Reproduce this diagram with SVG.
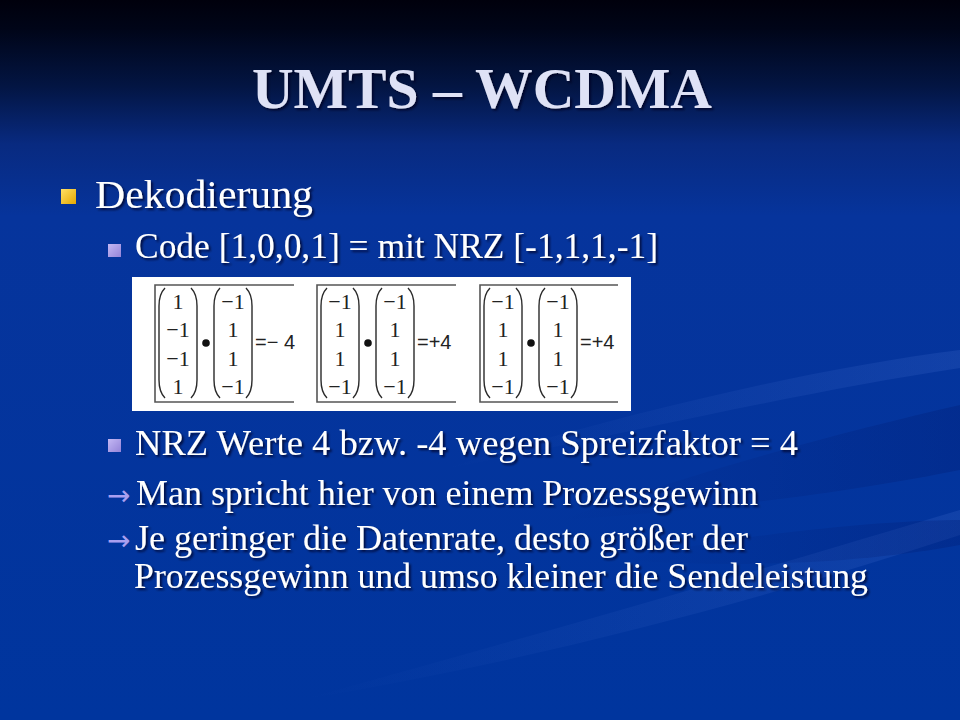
<svg xmlns="http://www.w3.org/2000/svg" width="960" height="720" viewBox="0 0 960 720">
<defs>
  <linearGradient id="bg" x1="0" y1="0" x2="0" y2="1">
    <stop offset="0" stop-color="#00000c"/>
    <stop offset="0.04" stop-color="#000518"/>
    <stop offset="0.12" stop-color="#031543"/>
    <stop offset="0.2" stop-color="#082a80"/>
    <stop offset="0.3" stop-color="#06349c"/>
    <stop offset="1" stop-color="#00359e"/>
  </linearGradient>
  <linearGradient id="gold" x1="0" y1="0" x2="1" y2="1">
    <stop offset="0" stop-color="#ffe066"/>
    <stop offset="1" stop-color="#e6a800"/>
  </linearGradient>
  <linearGradient id="lav" x1="0" y1="0" x2="1" y2="1">
    <stop offset="0" stop-color="#c4b8f4"/>
    <stop offset="1" stop-color="#9484d8"/>
  </linearGradient>
  <linearGradient id="ribL" x1="0" y1="0" x2="1" y2="0">
    <stop offset="0" stop-color="#3a66c8" stop-opacity="0"/>
    <stop offset="0.6" stop-color="#3a66c8" stop-opacity="0.16"/>
    <stop offset="1" stop-color="#3a66c8" stop-opacity="0.26"/>
  </linearGradient>
  <linearGradient id="ribD" x1="0" y1="0" x2="1" y2="0">
    <stop offset="0" stop-color="#001a70" stop-opacity="0"/>
    <stop offset="1" stop-color="#001a70" stop-opacity="0.3"/>
  </linearGradient>
  <filter id="sh" x="-5%" y="-20%" width="110%" height="140%">
    <feDropShadow dx="2" dy="2" stdDeviation="1" flood-color="#000020" flood-opacity="0.75"/>
  </filter>
  <style>
    .t { font-family: "Liberation Serif", "DejaVu Serif", serif; fill: #ffffff; filter: url(#sh); }
    .l1 { font-size: 40px; }
    .l2 { font-size: 36px; }
    .arr { font-family: "Noto Sans", "DejaVu Sans", sans-serif; font-size: 28px; fill: #a99ff0; }
    .m { font-family: "Liberation Serif", "DejaVu Serif", serif; font-size: 22px; fill: #222; text-anchor: middle; }
    .eq { font-family: "Liberation Sans", "DejaVu Sans", sans-serif; font-size: 20px; fill: #222; }
    .par { fill: none; stroke: #2a2a2a; stroke-width: 1.4; }
    .frame { fill: none; stroke: #555; stroke-width: 1.6; }
  </style>
</defs>

<!-- background -->
<rect x="0" y="0" width="960" height="720" fill="url(#bg)"/>
<g id="swooshes">
  <path d="M 440 470 C 600 420 800 370 960 350 L 960 368 C 800 392 620 435 440 470 Z" fill="url(#ribL)"/>
  <path d="M 560 520 C 700 470 850 430 960 405 L 960 470 C 860 490 720 510 560 520 Z" fill="url(#ribD)"/>
  <path d="M 300 700 C 520 640 760 570 960 510 L 960 535 C 760 600 540 660 300 700 Z" fill="url(#ribL)"/>
  <path d="M 620 560 C 760 530 900 520 960 520 L 960 545 C 880 560 760 570 620 560 Z" fill="url(#ribD)"/>
</g>

<!-- title -->
<g id="title">
  <text x="482" y="108" text-anchor="middle" textLength="460" lengthAdjust="spacingAndGlyphs" style="font-family:'Liberation Serif','DejaVu Serif',serif;font-size:58px;font-weight:bold;fill:#dfe2f6;filter:url(#sh)">UMTS – WCDMA</text>
</g>

<!-- bullet 1 -->
<g id="b-dekodierung">
  <rect x="61" y="189" width="15" height="15" fill="url(#gold)"/>
  <text class="t l1" x="95" y="208" textLength="218" lengthAdjust="spacingAndGlyphs">Dekodierung</text>
</g>

<g id="b-code">
  <rect x="108" y="244" width="13" height="13" fill="url(#lav)"/>
  <text class="t l2" x="135" y="258" textLength="523" lengthAdjust="spacingAndGlyphs">Code [1,0,0,1] = mit NRZ [-1,1,1,-1]</text>
</g>

<!-- formula image -->
<g id="formula">
  <rect x="132" y="277" width="499" height="134" fill="#ffffff"/>
  <!-- box 1 -->
  <g id="box1" transform="translate(155,0)">
    <path class="frame" d="M 139 285 L 0 285 L 0 402 L 139 402"/>
    <path class="par" d="M 10 288 Q 4 294 4 306 L 4 380 Q 4 392 10 398"/>
    <path class="par" d="M 36 288 Q 42 294 42 306 L 42 380 Q 42 392 36 398"/>
    <text class="m" x="23" y="309">1</text>
    <text class="m" x="23" y="337">−1</text>
    <text class="m" x="23" y="366">−1</text>
    <text class="m" x="23" y="394">1</text>
    <circle cx="51" cy="343" r="3.8" fill="#111"/>
    <path class="par" d="M 65 288 Q 59 294 59 306 L 59 380 Q 59 392 65 398"/>
    <path class="par" d="M 91 288 Q 97 294 97 306 L 97 380 Q 97 392 91 398"/>
    <text class="m" x="78" y="309">−1</text>
    <text class="m" x="78" y="337">1</text>
    <text class="m" x="78" y="366">1</text>
    <text class="m" x="78" y="394">−1</text>
    <text class="eq" x="100" y="349">=− 4</text>
  </g>
  <!-- box 2 -->
  <g id="box2" transform="translate(317,0)">
    <path class="frame" d="M 139 285 L 0 285 L 0 402 L 139 402"/>
    <path class="par" d="M 10 288 Q 4 294 4 306 L 4 380 Q 4 392 10 398"/>
    <path class="par" d="M 36 288 Q 42 294 42 306 L 42 380 Q 42 392 36 398"/>
    <text class="m" x="23" y="309">−1</text>
    <text class="m" x="23" y="337">1</text>
    <text class="m" x="23" y="366">1</text>
    <text class="m" x="23" y="394">−1</text>
    <circle cx="51" cy="343" r="3.8" fill="#111"/>
    <path class="par" d="M 65 288 Q 59 294 59 306 L 59 380 Q 59 392 65 398"/>
    <path class="par" d="M 91 288 Q 97 294 97 306 L 97 380 Q 97 392 91 398"/>
    <text class="m" x="78" y="309">−1</text>
    <text class="m" x="78" y="337">1</text>
    <text class="m" x="78" y="366">1</text>
    <text class="m" x="78" y="394">−1</text>
    <text class="eq" x="100" y="349">=+4</text>
  </g>
  <!-- box 3 -->
  <g id="box3" transform="translate(480,0)">
    <path class="frame" d="M 138 285 L 0 285 L 0 402 L 138 402"/>
    <path class="par" d="M 10 288 Q 4 294 4 306 L 4 380 Q 4 392 10 398"/>
    <path class="par" d="M 36 288 Q 42 294 42 306 L 42 380 Q 42 392 36 398"/>
    <text class="m" x="23" y="309">−1</text>
    <text class="m" x="23" y="337">1</text>
    <text class="m" x="23" y="366">1</text>
    <text class="m" x="23" y="394">−1</text>
    <circle cx="51" cy="343" r="3.8" fill="#111"/>
    <path class="par" d="M 65 288 Q 59 294 59 306 L 59 380 Q 59 392 65 398"/>
    <path class="par" d="M 91 288 Q 97 294 97 306 L 97 380 Q 97 392 91 398"/>
    <text class="m" x="78" y="309">−1</text>
    <text class="m" x="78" y="337">1</text>
    <text class="m" x="78" y="366">1</text>
    <text class="m" x="78" y="394">−1</text>
    <text class="eq" x="100" y="349">=+4</text>
  </g>
</g>

<g id="b-nrz">
  <rect x="108" y="439" width="13" height="13" fill="url(#lav)"/>
  <text class="t l2" x="135" y="455" textLength="663" lengthAdjust="spacingAndGlyphs">NRZ Werte 4 bzw. -4 wegen Spreizfaktor = 4</text>
</g>

<g id="b-man">
  <text class="arr" x="107" y="505">→</text>
  <text class="t l2" x="136" y="505" textLength="622" lengthAdjust="spacingAndGlyphs">Man spricht hier von einem Prozessgewinn</text>
</g>

<g id="b-je">
  <text class="arr" x="107" y="550">→</text>
  <text class="t l2" x="135" y="550" textLength="613" lengthAdjust="spacingAndGlyphs">Je geringer die Datenrate, desto größer der</text>
  <text class="t l2" x="134" y="588" textLength="734" lengthAdjust="spacingAndGlyphs">Prozessgewinn und umso kleiner die Sendeleistung</text>
</g>

<g id="connectors"></g>
</svg>
